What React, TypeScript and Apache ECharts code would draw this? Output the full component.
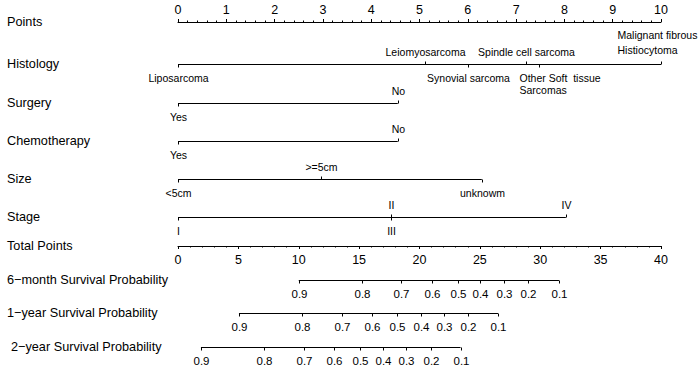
import React, { useEffect, useRef } from "react";
import * as echarts from "echarts";

const FONT = "'Liberation Sans', Arial, Helvetica, sans-serif";

// ---------------- data ----------------
const rowNames = [
  "Points",
  "Histology",
  "Surgery",
  "Chemotherapy",
  "Size",
  "Stage",
  "Total Points",
  "6\u2212month Survival Probability",
  "1\u2212year Survival Probability",
  "2\u2212year Survival Probability",
];

const histologyLevels = [
  "Liposarcoma",
  "Leiomyosarcoma",
  "Synovial sarcoma",
  "Spindle cell sarcoma",
  "Other Soft  tissue\nSarcomas",
  "Malignant fibrous\nHistiocytoma",
];
const histologyPoints = [0, 5.11, 6.0, 7.2, 7.47, 10];

const surgeryLevels = ["Yes", "No"];
const surgeryPoints = [0, 4.55];

const chemoLevels = ["Yes", "No"];
const chemoPoints = [0, 4.55];

const sizeLevels = ["<5cm", ">=5cm", "unknowm"];
const sizePoints = [0, 2.96, 6.29];

const stageLevels = ["I", "II", "III", "IV"];
const stagePoints = [0, 4.41, 4.41, 8.03];

const survProbLabels = ["0.9", "0.8", "0.7", "0.6", "0.5", "0.4", "0.3", "0.2", "0.1"];
const surv6mTotal = [10.0, 15.2, 18.5, 21.0, 23.15, 25.05, 27.0, 29.0, 31.55];
const surv1yTotal = [5.05, 10.25, 13.55, 16.05, 18.15, 20.1, 22.0, 24.0, 26.5];
const surv2yTotal = [1.9, 7.15, 10.45, 12.9, 15.05, 17.0, 18.9, 20.95, 23.4];

// ---------------- layout ----------------
const W = 700;
const H = 376;
const PLOT_LEFT = 178;
const PLOT_RIGHT = 39;
const rowY = [22.5, 64.5, 103.5, 141.5, 179.5, 217.5, 246.5, 280.5, 313.5, 347.5];
const rowLabelX = [7, 7, 7, 7, 7, 7, 7, 7, 7, 11];

type Side = "above" | "below";
interface RowSpec {
  row: number;
  levels: string[];
  values: number[];
  sides: Side[];
  offsets?: number[];
  lineHeights?: number[];
  axis: "points" | "total";
  fontSize: number;
}

const rows: RowSpec[] = [
  {
    row: 1,
    levels: histologyLevels,
    values: histologyPoints,
    sides: ["below", "above", "below", "above", "below", "above"],
    offsets: [0, 0, 0, 0, -20, -44],
    lineHeights: [12, 12, 12, 12, 12, 15],
    axis: "points",
    fontSize: 10.5,
  },
  { row: 2, levels: surgeryLevels, values: surgeryPoints, sides: ["below", "above"], axis: "points", fontSize: 10.5 },
  { row: 3, levels: chemoLevels, values: chemoPoints, sides: ["below", "above"], axis: "points", fontSize: 10.5 },
  { row: 4, levels: sizeLevels, values: sizePoints, sides: ["below", "above", "below"], axis: "points", fontSize: 10.5 },
  { row: 5, levels: stageLevels, values: stagePoints, sides: ["below", "above", "below", "above"], axis: "points", fontSize: 10.5 },
  { row: 7, levels: survProbLabels, values: surv6mTotal, sides: survProbLabels.map(() => "below" as Side), axis: "total", fontSize: 11.5 },
  { row: 8, levels: survProbLabels, values: surv1yTotal, sides: survProbLabels.map(() => "below" as Side), axis: "total", fontSize: 11.5 },
  { row: 9, levels: survProbLabels, values: surv2yTotal, sides: survProbLabels.map(() => "below" as Side), axis: "total", fontSize: 11.5 },
];

function buildOption(): any {
  const series: any[] = [];
  rows.forEach((r) => {
    const y = rowY[r.row];
    const xAxisIndex = r.axis === "points" ? 0 : 1;
    series.push({
      type: "line",
      xAxisIndex,
      yAxisIndex: 0,
      symbol: "none",
      silent: true,
      lineStyle: { color: "#000", width: 1 },
      data: [
        [Math.min(...r.values), y],
        [Math.max(...r.values), y],
      ],
    });
    series.push({
      type: "custom",
      xAxisIndex,
      yAxisIndex: 0,
      silent: true,
      clip: false,
      data: r.values.map((v) => [v, y]),
      renderItem: (params: any, api: any) => {
        const i = params.dataIndex;
        const p = api.coord([api.value(0), api.value(1)]);
        const x = Math.round(p[0]) + 0.5;
        const yy = p[1];
        const up = r.sides[i] === "above";
        const off = r.offsets ? r.offsets[i] : 0;
        const lh = r.lineHeights ? r.lineHeights[i] : 12;
        return {
          type: "group",
          children: [
            {
              type: "line",
              shape: { x1: x, y1: yy, x2: x, y2: up ? yy - 3 : yy + 3 },
              style: { stroke: "#000", lineWidth: 1 },
            },
            {
              type: "text",
              x: x + off,
              y: up ? yy - 7 : yy + 7,
              style: {
                text: r.levels[i],
                fill: "#000",
                fontSize: r.fontSize,
                fontFamily: FONT,
                lineHeight: lh,
                align: off !== 0 ? "left" : "center",
                verticalAlign: up ? "bottom" : "top",
              },
            },
          ],
        };
      },
    });
  });

  const graphic = rowNames.map((name, i) => ({
    type: "text",
    x: rowLabelX[i],
    y: rowY[i] - 1,
    silent: true,
    style: {
      text: name,
      fill: "#000",
      fontSize: 12.7,
      fontFamily: FONT,
      verticalAlign: "middle",
      align: "left",
    },
  }));

  const hiddenAxis = { show: false, type: "value" };

  return {
    animation: false,
    backgroundColor: "#fff",
    graphic,
    grid: [
      { left: PLOT_LEFT, right: PLOT_RIGHT, top: 0, bottom: 0 },
      { left: PLOT_LEFT, right: PLOT_RIGHT, top: 22, height: 20 },
      { left: PLOT_LEFT, right: PLOT_RIGHT, top: 226, height: 20 },
    ],
    xAxis: [
      { ...hiddenAxis, gridIndex: 0, min: 0, max: 10 },
      { ...hiddenAxis, gridIndex: 0, min: 0, max: 40 },
      {
        type: "value",
        gridIndex: 1,
        position: "top",
        min: 0,
        max: 10,
        interval: 1,
        axisLine: { show: true, onZero: false, lineStyle: { color: "#000", width: 1 } },
        axisTick: { show: true, length: 3, lineStyle: { color: "#000", width: 1 } },
        minorTick: { show: true, splitNumber: 5, length: 1.5, lineStyle: { color: "#000", width: 1 } },
        axisLabel: { show: true, color: "#000", fontSize: 12.5, fontFamily: FONT, margin: 6 },
        splitLine: { show: false },
        minorSplitLine: { show: false },
      },
      {
        type: "value",
        gridIndex: 2,
        position: "bottom",
        min: 0,
        max: 40,
        interval: 5,
        axisLine: { show: true, onZero: false, lineStyle: { color: "#000", width: 1 } },
        axisTick: { show: true, length: 3, lineStyle: { color: "#000", width: 1 } },
        minorTick: { show: true, splitNumber: 5, length: 1.5, lineStyle: { color: "#000", width: 1 } },
        axisLabel: { show: true, color: "#000", fontSize: 12.5, fontFamily: FONT, margin: 7 },
        splitLine: { show: false },
        minorSplitLine: { show: false },
      },
    ],
    yAxis: [
      { ...hiddenAxis, gridIndex: 0, min: 0, max: H, inverse: true },
      { ...hiddenAxis, gridIndex: 1, min: 0, max: 1 },
      { ...hiddenAxis, gridIndex: 2, min: 0, max: 1 },
    ],
    series,
  };
}

export default function App() {
  const ref = useRef<HTMLDivElement>(null);
  useEffect(() => {
    if (!ref.current) return;
    const chart = echarts.init(ref.current, null, { renderer: "svg" });
    chart.setOption(buildOption());
    return () => chart.dispose();
  }, []);
  return (
    <div
      ref={ref}
      style={{ position: "fixed", left: 0, top: 0, width: W, height: H, background: "#fff" }}
    />
  );
}
